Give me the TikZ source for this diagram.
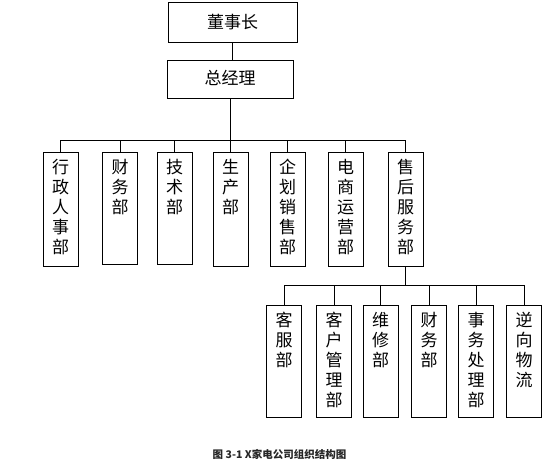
\documentclass[tikz,border=0pt]{standalone}
\usepackage{fontspec}
\newfontfamily\cjk{Noto Sans CJK SC}
\usepackage{tikz}
\usetikzlibrary{positioning}
% characters set one under the other
\newcommand{\colchars}[2]{\parbox[c][#1][t]{20pt}{\centering\fontsize{17}{20}\selectfont\vspace*{7pt}#2}}

\begin{document}
\begin{tikzpicture}[x=1pt,y=-1pt,line width=.9pt,
  every node/.style={font=\cjk},
  head/.style={draw,minimum width=#1,inner sep=0pt,font=\cjk\fontsize{17}{20}\selectfont},
  dept/.style={draw,anchor=north,minimum width=35pt,inner sep=0pt}]
\useasboundingbox (0,0) rectangle (553,464);
      \node[head=129pt,minimum height=40pt] (dsz) at (232.5,22) {董事长};
      \node[head=126pt,minimum height=38pt] (zjl) at (230,79) {\raisebox{3pt}{总经理}};
      \draw (dsz.south) -- (dsz.south |- zjl.north);
      \draw (zjl.south) -- ++(0,42) coordinate (bus);
% first row
  \node[dept] (xz) at (60.5,152) {\colchars{114pt}{行\\政\\人\\事\\部}};
  \node[dept] (cw) at (120,152) {\colchars{112pt}{财\\务\\部}};
  \node[dept] (js) at (174.5,152) {\colchars{112pt}{技\\术\\部}};
  \node[dept] (sc) at (230.5,152) {\colchars{114pt}{生\\产\\部}};
  \node[dept] (qh) at (287.5,152) {\colchars{114pt}{企\\划\\销\\售\\部}};
  \node[dept] (ds) at (345.5,152) {\colchars{114pt}{电\\商\\运\\营\\部}};
  \node[dept] (sh) at (405.5,152) {\colchars{114pt}{售\\后\\服\\务\\部}};
      \draw (xz.north) |- (bus) (cw.north) |- (bus) (js.north) |- (bus) (sc.north) |- (bus);
      \draw (qh.north) |- (bus) (ds.north) |- (bus) (sh.north) |- (bus);
      \draw (sh.south) -- ++(0,19) coordinate (bus2);
% second row
  \node[dept] (kf) at (284,305) {\colchars{112pt}{客\\服\\部}};
  \node[dept] (kh) at (334,305) {\colchars{112pt}{客\\户\\管\\理\\部}};
  \node[dept] (wx) at (380.5,305) {\colchars{112pt}{维\\修\\部}};
  \node[dept] (cw2) at (429,305) {\colchars{112pt}{财\\务\\部}};
  \node[dept] (sw) at (476,305) {\colchars{112pt}{事\\务\\处\\理\\部}};
  \node[dept] (nx) at (524,305) {\colchars{112pt}{逆\\向\\物\\流}};
      \draw (kf.north) |- (bus2) (kh.north) |- (bus2) (wx.north) |- (bus2);
      \draw (cw2.north) |- (bus2) (sw.north) |- (bus2) (nx.north) |- (bus2);
      \node[font=\cjk\bfseries\fontsize{10.5}{12}\selectfont,text=black!85] (cap) at (279.5,454) {图 3-1 X家电公司组织结构图};
\end{tikzpicture}
\end{document}
